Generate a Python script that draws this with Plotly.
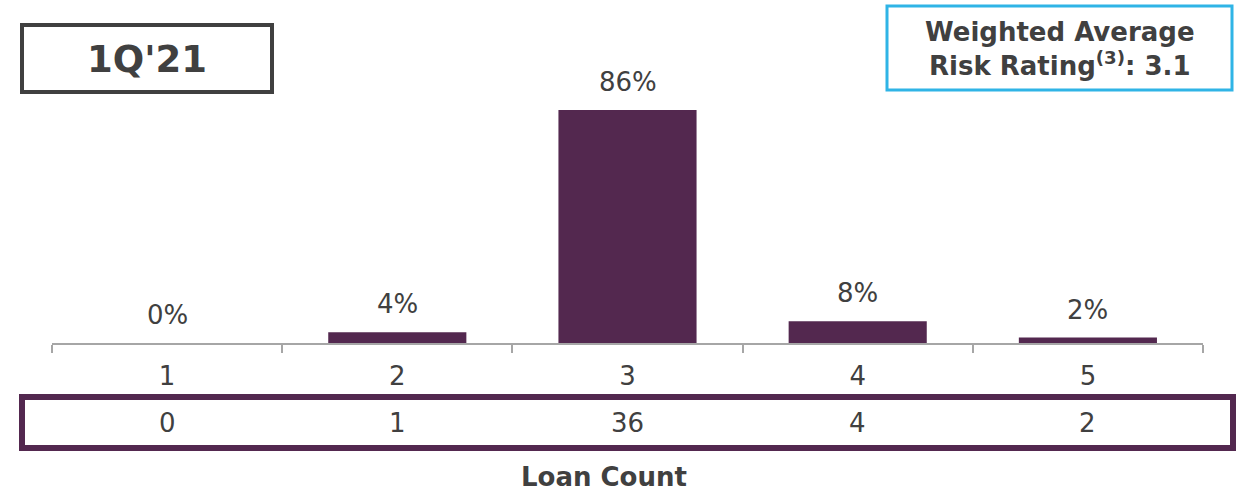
import plotly.graph_objects as go

# Risk rating distribution, 1Q'21
ratings = ["1", "2", "3", "4", "5"]
pct_share = [0, 4, 86, 8, 2]
loan_counts = [0, 1, 36, 4, 2]
period_label = "1Q'21"
wa_rating = "3.1"

W, H = 1243, 491
L, R, T, B = 52, 40, 72, 148
PW, PH = W - L - R, H - T - B

PURPLE = "#53284F"
TEXT = "#404040"
FONT = "DejaVu Sans"
LABEL_SIZE = 26


def px_x(px):
    return (px - L) / PW


def px_y(py):
    return (H - B - py) / PH


fig = go.Figure(
    go.Bar(
        x=ratings,
        y=pct_share,
        width=0.6,
        marker=dict(color=PURPLE, line=dict(width=0)),
        hoverinfo="skip",
    )
)

# percentage labels above each bar (category index positions)
for i, v in enumerate(pct_share):
    fig.add_annotation(
        x=i, y=v, xref="x", yref="y",
        text=f"{v}%", showarrow=False,
        xanchor="center", yanchor="bottom", yshift=11,
        font=dict(family=FONT, size=LABEL_SIZE, color=TEXT),
    )

# loan count row
for i, c in enumerate(loan_counts):
    fig.add_annotation(
        x=i, y=px_y(423), xref="x", yref="paper",
        text=str(c), showarrow=False,
        xanchor="center", yanchor="middle",
        font=dict(family=FONT, size=LABEL_SIZE, color=TEXT),
    )

fig.add_shape(
    type="rect", xref="paper", yref="paper",
    x0=px_x(22), x1=px_x(1233), y0=px_y(397), y1=px_y(448),
    line=dict(color=PURPLE, width=6),
)

fig.add_annotation(
    x=px_x(604), y=px_y(477), xref="paper", yref="paper",
    text="<b>Loan Count</b>", showarrow=False,
    xanchor="center", yanchor="middle",
    font=dict(family=FONT, size=LABEL_SIZE, color=TEXT),
)

# period box
fig.add_shape(
    type="rect", xref="paper", yref="paper",
    x0=px_x(22), x1=px_x(272), y0=px_y(25), y1=px_y(92),
    line=dict(color=TEXT, width=4),
)
fig.add_annotation(
    x=px_x(147), y=px_y(60), xref="paper", yref="paper",
    text=f"<b>{period_label}</b>", showarrow=False,
    xanchor="center", yanchor="middle",
    font=dict(family=FONT, size=37, color=TEXT),
)

# weighted average box
fig.add_shape(
    type="rect", xref="paper", yref="paper",
    x0=px_x(887), x1=px_x(1232), y0=px_y(6), y1=px_y(90),
    line=dict(color="#2FB4E6", width=3),
)
fig.add_annotation(
    x=px_x(1060), y=px_y(49), xref="paper", yref="paper",
    text=f"<b>Weighted Average<br>Risk Rating<sup>(3)</sup>: {wa_rating}</b>",
    showarrow=False, xanchor="center", yanchor="middle",
    font=dict(family=FONT, size=26, color=TEXT),
)

fig.update_layout(
    width=W, height=H,
    margin=dict(l=L, r=R, t=T, b=B),
    paper_bgcolor="white", plot_bgcolor="white",
    showlegend=False,
    xaxis=dict(
        type="category",
        range=[-0.5, len(ratings) - 0.5],
        showline=True, linecolor="#A6A6A6", linewidth=2,
        ticks="outside", tickson="boundaries", ticklen=8,
        tickcolor="#A6A6A6", tickwidth=2,
        ticklabelstandoff=9,
        tickfont=dict(family=FONT, size=LABEL_SIZE, color=TEXT),
        showgrid=False, zeroline=False,
        fixedrange=True,
    ),
    yaxis=dict(
        range=[0, 100], visible=False, showgrid=False,
        zeroline=False, fixedrange=True,
    ),
)

fig.write_html("out.html", config={"displayModeBar": False})
